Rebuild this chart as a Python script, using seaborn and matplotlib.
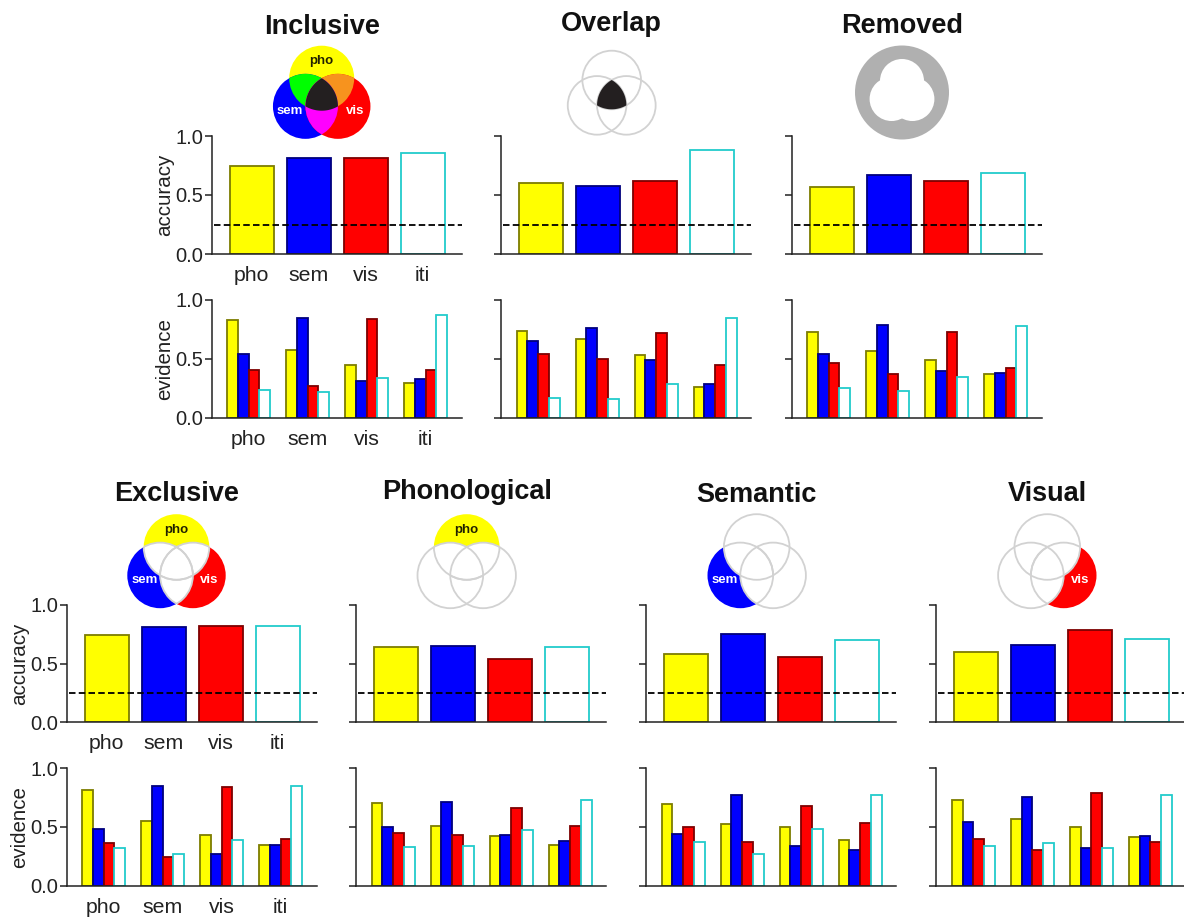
import numpy as np
import pandas as pd
import matplotlib
matplotlib.use("Agg")
import matplotlib.pyplot as plt
from matplotlib.patches import Circle, Polygon
import seaborn as sns

cues = ["pho", "sem", "vis", "iti"]
fills = ["#ffff00", "#0000ff", "#ff0000", "#ffffff"]
edges = ["#7d7d00", "#00007d", "#7d0000", "#22cccc"]

acc_inclusive = [.75, .81, .81, .86]
acc_overlap = [.60, .58, .62, .88]
acc_removed = [.57, .67, .62, .69]
acc_exclusive = [.74, .81, .82, .82]
acc_phonological = [.64, .65, .54, .64]
acc_semantic = [.58, .75, .56, .70]
acc_visual = [.60, .66, .79, .71]

ev_inclusive = [[.83, .54, .41, .24], [.58, .85, .27, .22], [.45, .31, .84, .34], [.30, .33, .41, .87]]
ev_overlap = [[.74, .65, .54, .17], [.67, .76, .50, .16], [.53, .49, .72, .29], [.26, .29, .45, .85]]
ev_removed = [[.73, .54, .47, .25], [.57, .79, .37, .23], [.49, .40, .73, .35], [.37, .38, .42, .78]]
ev_exclusive = [[.81, .48, .36, .32], [.55, .85, .24, .27], [.43, .27, .84, .39], [.35, .35, .40, .85]]
ev_phonological = [[.70, .50, .45, .33], [.51, .71, .43, .34], [.42, .43, .66, .47], [.35, .38, .51, .73]]
ev_semantic = [[.69, .44, .50, .37], [.52, .77, .37, .27], [.50, .34, .68, .48], [.39, .30, .53, .77]]
ev_visual = [[.73, .54, .40, .34], [.57, .75, .30, .36], [.50, .32, .79, .32], [.41, .42, .37, .77]]

chance = 0.25
W, H = 1184, 919

sns.set_theme(style="white")
plt.rcParams["font.family"] = ["Liberation Sans", "DejaVu Sans"]
plt.rcParams["axes.edgecolor"] = "#222222"

fig = plt.figure(figsize=(W / 100, H / 100), dpi=100, facecolor="white")

# layout, in pixels: title, title y, venn kind, venn top-circle x/y/r, spine x, axis tops/bottoms
LEFT_OFF_ACC, STEP_ACC = 40, 57
LEFT_OFF_EV, STEP_EV = 37, 59
AX_W = 250
panels = [
    dict(title="Inclusive", ty=27, kind="inclusive", c=(321.7, 78.2), r=32.5, sx=211.7, row=0,
         acc=acc_inclusive, ev=ev_inclusive, labels=True),
    dict(title="Overlap", ty=24, kind="overlap", c=(611.7, 80), r=29.3, sx=501, row=0,
         acc=acc_overlap, ev=ev_overlap, labels=False),
    dict(title="Removed", ty=26, kind="removed", c=(902, 92.5), r=47, sx=791.7, row=0,
         acc=acc_removed, ev=ev_removed, labels=False),
    dict(title="Exclusive", ty=494, kind=("pho", "sem", "vis"), c=(176.5, 547), r=32.8, sx=66.7, row=1,
         acc=acc_exclusive, ev=ev_exclusive, labels=True),
    dict(title="Phonological", ty=492, kind=("pho",), c=(466.7, 547), r=32.8, sx=356, row=1,
         acc=acc_phonological, ev=ev_phonological, labels=False),
    dict(title="Semantic", ty=495, kind=("sem",), c=(756.7, 547), r=32.8, sx=646, row=1,
         acc=acc_semantic, ev=ev_semantic, labels=False),
    dict(title="Visual", ty=494, kind=("vis",), c=(1047.3, 547), r=32.8, sx=936.3, row=1,
         acc=acc_visual, ev=ev_visual, labels=False),
]
rows = [dict(acc=(136, 254), ev=(300, 418)), dict(acc=(605, 722.3), ev=(768, 885.7))]


def make_axes(sx, top, bottom):
    return fig.add_axes([sx / W, 1 - bottom / H, AX_W / W, (bottom - top) / H])


def style_axes(ax, off, step, ylabel, labels):
    ax.set_xlim(-off / step, (AX_W - off) / step)
    ax.set_ylim(0, 1)
    ax.set_yticks([0, .5, 1])
    ax.set_xlabel("")
    ax.set_ylabel("")
    sns.despine(ax=ax)
    for s in ("left", "bottom"):
        ax.spines[s].set_linewidth(1.1)
        ax.spines[s].set_color("#222222")
    ax.patch.set_alpha(0)
    ax.tick_params(axis="y", left=True, length=4.8, width=1.1, color="#222222", pad=1.5,
                   labelleft=labels, labelsize=14.5, labelcolor="#222222")
    ax.tick_params(axis="x", bottom=False, length=0, pad=8.5, labelbottom=labels,
                   labelsize=15.3, labelcolor="#222222")
    if labels:
        ax.set_yticklabels(["0.0", "0.5", "1.0"])
        ax.set_ylabel(ylabel, fontsize=14.8, color="#222222")
        ax.yaxis.set_label_coords(-37.5 / AX_W, 0.5)


def draw_accuracy(ax, values, labels):
    df = pd.DataFrame({"cue": cues, "value": values})
    sns.barplot(data=df, x="cue", y="value", hue="cue", order=cues, hue_order=cues,
                palette=fills, saturation=1, width=44 / STEP_ACC, legend=False, ax=ax)
    for bars, ec in zip(ax.containers, edges):
        for b in bars:
            b.set_edgecolor(ec)
            b.set_linewidth(1.3)
    ax.axhline(chance, xmin=2 / AX_W, color="black", lw=1.3, dashes=(3.6, 1.8), zorder=5, clip_on=True)
    style_axes(ax, LEFT_OFF_ACC, STEP_ACC, "accuracy", labels)


def draw_evidence(ax, values, labels):
    df = pd.DataFrame(values, index=cues, columns=cues).rename_axis("group").reset_index()
    df = df.melt(id_vars="group", var_name="cue", value_name="value")
    sns.barplot(data=df, x="group", y="value", hue="cue", order=cues, hue_order=cues,
                palette=fills, saturation=1, width=43 / STEP_EV, gap=0, legend=False, ax=ax)
    for bars, ec in zip(ax.containers, edges):
        for b in bars:
            b.set_edgecolor(ec)
            b.set_linewidth(1.3)
    style_axes(ax, LEFT_OFF_EV, STEP_EV, "evidence", labels)


# decoration layer in pixel coordinates
deco = fig.add_axes([0, 0, 1, 1], zorder=10)
deco.set_xlim(0, W)
deco.set_ylim(H, 0)
deco.axis("off")
deco.patch.set_alpha(0)

GREY = "#d2d2d2"
COLORS = dict(pho="#ffff00", sem="#0000ff", vis="#ff0000")
TXT = dict(pho=("#222200", 0, -17), sem=("white", -32, 33), vis=("white", 33, 33))


def centres(c, r):
    dx, dy = r * 0.5, r * 0.866
    return dict(pho=c, sem=(c[0] - dx, c[1] + dy), vis=(c[0] + dx, c[1] + dy))


def clipped(cent, r, clip_name, cs, **kw):
    p = Circle(cent, r, **kw)
    deco.add_patch(p)
    p.set_clip_path(Circle(cs[clip_name], r, transform=deco.transData))
    return p


def triple(cs, r, color):
    names = list(cs)
    mid = np.mean([cs[n] for n in names], axis=0)
    pts = []
    t = np.linspace(0, 2 * np.pi, 720)
    for n in names:
        x = cs[n][0] + r * np.cos(t)
        y = cs[n][1] + r * np.sin(t)
        keep = np.ones_like(t, bool)
        for m in names:
            if m != n:
                keep &= np.hypot(x - cs[m][0], y - cs[m][1]) <= r + 1e-6
        pts.append(np.c_[x[keep], y[keep]])
    pts = np.vstack(pts)
    order = np.argsort(np.arctan2(pts[:, 1] - mid[1], pts[:, 0] - mid[0]))
    deco.add_patch(Polygon(pts[order], closed=True, fc=color, ec="none"))


def label(name, c):
    col, dx, dy = TXT[name]
    deco.text(c[0] + dx, c[1] + dy, name, ha="center", va="center", fontsize=9.5,
              fontweight="bold", color=col)


def venn(kind, c, r):
    if kind == "removed":
        deco.add_patch(Circle(c, r, fc="#b0b0b0", ec="none"))
        for cc in centres((c[0], c[1] - 11.5), 20.8).values():
            deco.add_patch(Circle(cc, 22, fc="white", ec="none"))
        return
    cs = centres(c, r)
    if kind == "inclusive":
        for n in cs:
            deco.add_patch(Circle(cs[n], r, fc=COLORS[n], ec="none"))
        clipped(cs["pho"], r, "sem", cs, fc="#00ff00", ec="none")
        clipped(cs["pho"], r, "vis", cs, fc="#f7931e", ec="none")
        clipped(cs["sem"], r, "vis", cs, fc="#ff00ff", ec="none")
        triple(cs, r, "#231f20")
        for n in cs:
            label(n, c)
        return
    if kind == "overlap":
        for n in cs:
            deco.add_patch(Circle(cs[n], r, fc="none", ec=GREY, lw=1.3))
        triple(cs, r, "#231f20")
        return
    for n in kind:
        deco.add_patch(Circle(cs[n], r, fc=COLORS[n], ec="none"))
        for m in cs:
            if m != n:
                clipped(cs[m], r, n, cs, fc="white", ec="none")
    for n in cs:
        if n in kind:
            for m in cs:
                if m != n:
                    clipped(cs[n], r, m, cs, fc="none", ec=GREY, lw=1.3)
        else:
            deco.add_patch(Circle(cs[n], r, fc="none", ec=GREY, lw=1.3))
    for n in kind:
        label(n, c)


for p in panels:
    row = rows[p["row"]]
    ax1 = make_axes(p["sx"], *row["acc"])
    draw_accuracy(ax1, p["acc"], p["labels"])
    ax2 = make_axes(p["sx"], *row["ev"])
    draw_evidence(ax2, p["ev"], p["labels"])
    venn(p["kind"], p["c"], p["r"])
    deco.text(p["c"][0], p["ty"], p["title"], ha="center", va="center",
              fontsize=19.5, fontweight="bold", color="#111111")

fig.savefig("out.png", dpi=100)
